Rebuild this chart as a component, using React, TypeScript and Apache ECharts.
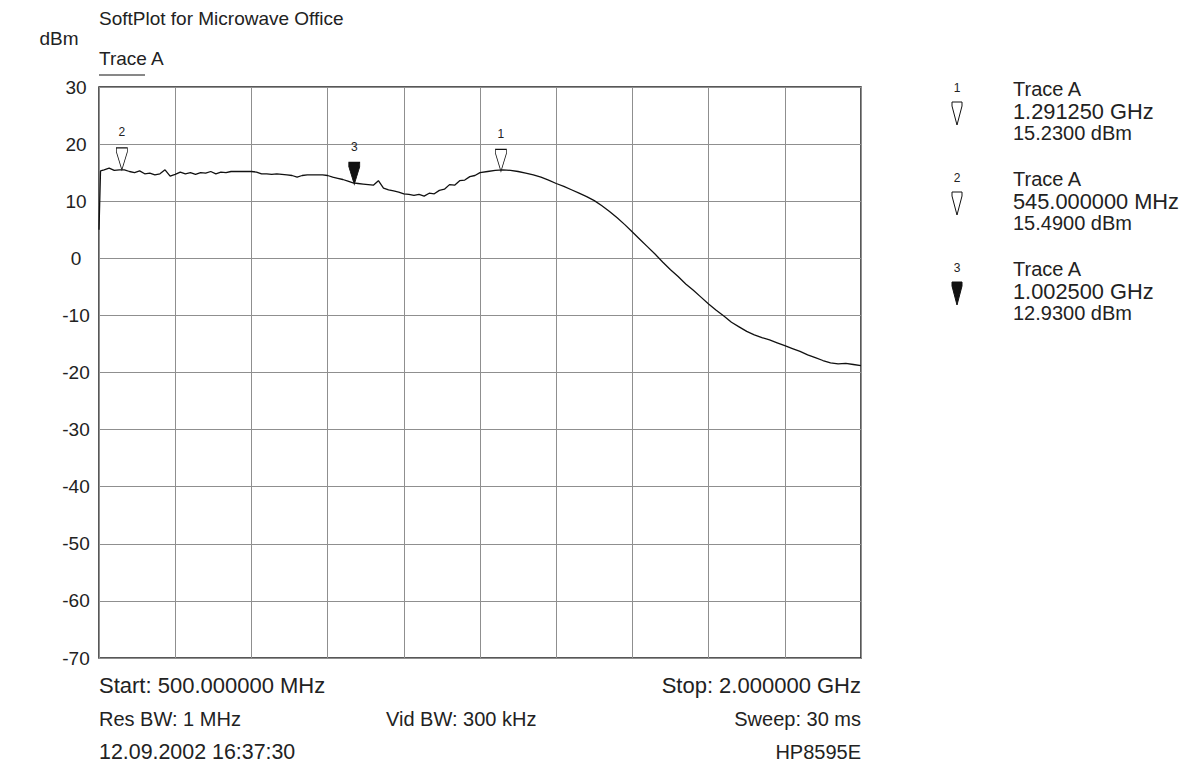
import React, { useEffect, useRef } from "react";
import * as echarts from "echarts";

// Sweep settings
const START_MHZ = 500;
const STOP_MHZ = 2000;
const X_DIV_MHZ = 150;
const Y_MIN = -70;
const Y_MAX = 30;
const Y_DIV = 10;

// Trace A: frequency (MHz) and level (dBm)
const FREQ_MHZ = [
  500, 503, 510, 520, 530, 540, 550, 560, 570, 580, 590, 600, 610, 620, 630, 640, 650, 660, 670, 680,
  690, 700, 710, 720, 730, 740, 750, 760, 770, 780, 790, 800, 810, 820, 830, 840, 850, 860, 870, 880,
  890, 900, 910, 920, 930, 940, 950, 960, 970, 980, 990, 1000, 1010, 1020, 1030, 1040, 1050, 1060, 1070, 1080,
  1090, 1100, 1110, 1120, 1130, 1140, 1150, 1160, 1170, 1180, 1190, 1200, 1210, 1220, 1230, 1240, 1250,
  1265, 1280, 1295, 1310, 1325, 1340, 1355, 1370, 1385, 1400, 1415, 1430, 1445, 1460, 1475, 1490, 1505,
  1520, 1535, 1550, 1565, 1580, 1595, 1610, 1625, 1640, 1655, 1670, 1685, 1700, 1715, 1730, 1745, 1760,
  1775, 1790, 1805, 1820, 1835, 1850, 1865, 1880, 1895, 1910, 1925, 1940, 1955, 1970, 1985, 2000,
];
const LEVEL_DBM = [
  5.0, 15.3, 15.5, 15.8, 15.4, 15.5, 15.5, 15.2, 15.0, 15.3, 14.8, 14.9, 14.6, 14.8, 15.5, 14.4, 14.7, 15.1, 14.8, 15.0,
  14.7, 15.0, 14.9, 15.2, 14.8, 15.1, 15.0, 15.2, 15.2, 15.2, 15.2, 15.2, 15.1, 14.8, 14.8, 14.7, 14.8, 14.7, 14.6, 14.5,
  14.2, 14.5, 14.6, 14.6, 14.6, 14.6, 14.5, 14.2, 14.0, 13.8, 13.5, 13.2, 13.1, 13.0, 12.9, 12.8, 13.6, 12.3, 12.0, 11.8,
  11.6, 11.3, 11.2, 11.0, 11.2, 10.9, 11.4, 11.3, 11.9, 12.1, 12.9, 12.8, 13.6, 13.7, 14.3, 14.5, 15.0,
  15.2, 15.4, 15.5, 15.4, 15.2, 14.9, 14.6, 14.2, 13.7, 13.1, 12.6, 12.0, 11.4, 10.8, 10.1, 9.2, 8.2,
  7.1, 5.9, 4.6, 3.3, 2.0, 0.7, -0.7, -2.0, -3.2, -4.5, -5.6, -6.8, -8.0, -9.1, -10.1, -11.2, -12.0,
  -12.8, -13.4, -13.9, -14.3, -14.8, -15.3, -15.8, -16.3, -16.9, -17.4, -17.9, -18.3, -18.5, -18.4, -18.6, -18.8,
];

// Markers
const MARKER_IDS = ["1", "2", "3"];
const MARKER_FREQ_MHZ = [1291.25, 545.0, 1002.5];
const MARKER_LEVEL_DBM = [15.23, 15.49, 12.93];
const MARKER_FILLED = [false, false, true];
const MARKER_FREQ_TEXT = ["1.291250 GHz", "545.000000 MHz", "1.002500 GHz"];
const MARKER_LEVEL_TEXT = ["15.2300 dBm", "15.4900 dBm", "12.9300 dBm"];

// Texts
const TITLE = "SoftPlot for Microwave Office";
const TRACE_NAME = "Trace A";
const Y_UNIT = "dBm";
const INFO_LEFT = ["Start: 500.000000 MHz", "Res BW: 1 MHz", "12.09.2002 16:37:30"];
const INFO_MID = ["", "Vid BW: 300 kHz", ""];
const INFO_RIGHT = ["Stop: 2.000000 GHz", "Sweep: 30 ms", "HP8595E"];

const FONT = "'Liberation Sans', Arial, sans-serif";
const TXT = "#222";
const MARKER_PATH = "path://M0,0 L10,0 L10,4 L5,22 L0,4 Z";

const GL = 99, GT = 87, GW = 762, GH = 571;

function txt(text: string, x: number, y: number, size: number, align = "left") {
  return {
    type: "text",
    x,
    y,
    silent: true,
    style: {
      text,
      fill: TXT,
      fontSize: size,
      fontFamily: FONT,
      align,
      textAlign: align,
      verticalAlign: "middle",
      textVerticalAlign: "middle",
    },
  };
}

export default function App() {
  const ref = useRef<HTMLDivElement>(null);
  useEffect(() => {
    if (!ref.current) return;
    const chart = echarts.init(ref.current, undefined, { renderer: "svg" });

    const traceData = FREQ_MHZ.map((f, i) => [f - START_MHZ, LEVEL_DBM[i]]);
    const markerData = MARKER_IDS.map((id, i) => ({
      name: id,
      value: [MARKER_FREQ_MHZ[i] - START_MHZ, MARKER_LEVEL_DBM[i]],
      itemStyle: {
        color: MARKER_FILLED[i] ? "#111" : "#fff",
        borderColor: "#111",
        borderWidth: 1,
        opacity: 1,
      },
    }));

    const infoLeftSize = [22, 20, 21.4];
    const infoRightSize = [22, 20, 20];
    const freqSize = [21.8, 21.8, 21.8];

    const graphics: any[] = [];
    graphics.push(txt(TITLE, 99, 18, 19));
    graphics.push(txt(Y_UNIT, 59, 38, 19, "center"));
    graphics.push(txt(TRACE_NAME, 99, 58, 19));
    graphics.push({
      type: "line",
      silent: true,
      shape: { x1: 99, y1: 75, x2: 145, y2: 75 },
      style: { stroke: "#111", lineWidth: 1 },
    });
    const rowsY = [685, 719, 752];
    rowsY.forEach((y, i) => {
      if (INFO_LEFT[i]) graphics.push(txt(INFO_LEFT[i], 99, y, infoLeftSize[i]));
      if (INFO_MID[i]) graphics.push(txt(INFO_MID[i], 386, y, 20));
      if (INFO_RIGHT[i]) graphics.push(txt(INFO_RIGHT[i], 861, y, infoRightSize[i], "right"));
    });
    MARKER_IDS.forEach((id, i) => {
      const y0 = 89 + i * 90;
      graphics.push(txt(id, 957, y0 - 1, 12, "center"));
      graphics.push(txt(TRACE_NAME, 1013, y0, 20));
      graphics.push(txt(MARKER_FREQ_TEXT[i], 1013, y0 + 22, freqSize[i]));
      graphics.push(txt(MARKER_LEVEL_TEXT[i], 1013, y0 + 44, 20));
      const top = y0 + 13;
      graphics.push({
        type: "polygon",
        silent: true,
        shape: {
          points: [
            [952, top],
            [962, top],
            [962, top + 4],
            [957, top + 23],
            [952, top + 4],
          ],
        },
        style: {
          fill: MARKER_FILLED[i] ? "#111" : "#fff",
          stroke: "#111",
          lineWidth: 1,
        },
      });
    });

    chart.setOption({
      animation: false,
      backgroundColor: "#fff",
      grid: {
        left: GL,
        top: GT,
        width: GW,
        height: GH,
        show: true,
        borderColor: "#222",
        borderWidth: 1.5,
        backgroundColor: "transparent",
      },
      xAxis: {
        type: "value",
        min: 0,
        max: STOP_MHZ - START_MHZ,
        interval: X_DIV_MHZ,
        axisLine: { show: false },
        axisTick: { show: false },
        axisLabel: { show: false },
        splitLine: { show: true, lineStyle: { color: "#8f8f8f", width: 1 } },
      },
      yAxis: {
        type: "value",
        min: Y_MIN,
        max: Y_MAX,
        interval: Y_DIV,
        axisLine: { show: false },
        axisTick: { show: false },
        axisLabel: {
          show: true,
          color: TXT,
          fontSize: 19,
          fontFamily: FONT,
          align: "center",
          margin: 23,
        },
        splitLine: { show: true, lineStyle: { color: "#8f8f8f", width: 1 } },
      },
      series: [
        {
          type: "line",
          name: TRACE_NAME,
          data: traceData,
          showSymbol: false,
          symbol: "none",
          lineStyle: { color: "#111", width: 1.3 },
          silent: true,
          z: 3,
        },
        {
          type: "scatter",
          data: markerData,
          symbol: MARKER_PATH,
          symbolKeepAspect: false,
          symbolSize: [11, 22],
          symbolOffset: [0, -11],
          silent: true,
          z: 4,
          label: {
            show: true,
            position: "top",
            distance: 9,
            formatter: (p: any) => p.name,
            fontSize: 12,
            fontFamily: FONT,
            color: TXT,
          },
        },
      ],
      graphic: graphics,
    });
    return () => chart.dispose();
  }, []);
  return (
    <div
      ref={ref}
      style={{ position: "absolute", left: 0, top: 0, width: 1187, height: 768, background: "#fff" }}
    />
  );
}
